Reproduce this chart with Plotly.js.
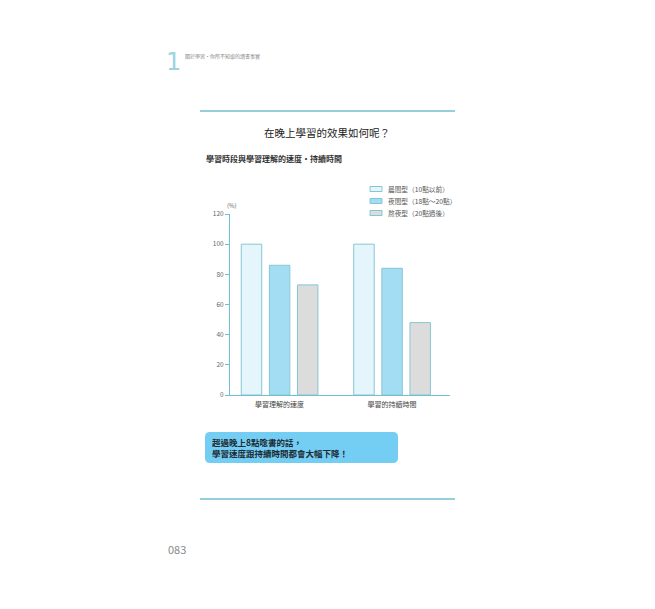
<!DOCTYPE html>
<html>
<head>
<meta charset="utf-8">
<script src="https://cdn.plot.ly/plotly-3.0.1.min.js"></script>
<style>
  html, body { margin: 0; padding: 0; background: #fff; }
  #chart { width: 655px; height: 609px; }
</style>
</head>
<body>
<div id="chart"></div>
<script>
// chart data
const categories = ['學習理解的速度', '學習的持續時間'];
const seriesNames = ['晨間型（10點以前）', '夜間型（18點～20點）', '熬夜型（20點過後）'];
const morningValues = [100, 100];
const eveningValues = [86, 84];
const lateNightValues = [73, 48];
const yTicks = [0, 20, 40, 60, 80, 100, 120];

const fills = ['#e5f5fc', '#a3ddf4', '#dcdcdc'];
const offsets = [-0.34, -0.09, 0.16];
const outline = '#86c6d4';
const teal = '#72bfd2';
const font = '"Noto Sans CJK TC", "Noto Sans", sans-serif';

// page pixels -> paper coords (plot area is x 230..450, y 214..395)
function px(x) { return (x - 230) / 220; }
function py(y) { return (395 - y) / 181; }

function barTrace(name, values, i) {
  return {
    type: 'bar',
    name: name,
    x: categories,
    y: values,
    width: 0.182,
    offset: offsets[i],
    marker: { color: fills[i], line: { color: outline, width: 1 } },
    showlegend: false,
    hovertemplate: '%{x}<br>' + name + ': %{y}%<extra></extra>'
  };
}

var data = [
  barTrace(seriesNames[0], morningValues, 0),
  barTrace(seriesNames[1], eveningValues, 1),
  barTrace(seriesNames[2], lateNightValues, 2)
];

// hand made legend, thin swatches like the printed page
var shapes = [];
var annotations = [];
seriesNames.forEach(function (name, i) {
  var rowY = 189 + i * 12;
  shapes.push({
    type: 'rect', xref: 'paper', yref: 'paper',
    x0: px(370), x1: px(382), y0: py(rowY + 2.5), y1: py(rowY - 2.5),
    fillcolor: fills[i], line: { color: outline, width: 1 }
  });
  annotations.push({
    xref: 'paper', yref: 'paper', x: px(386), y: py(rowY),
    xanchor: 'left', yanchor: 'middle', showarrow: false,
    text: name, font: { family: font, size: 6.7, color: '#555' }
  });
});

// rules above and below the figure
shapes.push({ type: 'line', xref: 'paper', yref: 'paper',
  x0: px(200), x1: px(455), y0: py(111), y1: py(111), line: { color: teal, width: 1.5 } });
shapes.push({ type: 'line', xref: 'paper', yref: 'paper',
  x0: px(200), x1: px(455), y0: py(499), y1: py(499), line: { color: teal, width: 1.5 } });

// rounded callout box
var bx0 = 205, bx1 = 398, by0 = 432, by1 = 463, r = 5;
var box = 'M' + px(bx0 + r) + ',' + py(by0) +
  ' L' + px(bx1 - r) + ',' + py(by0) +
  ' Q' + px(bx1) + ',' + py(by0) + ' ' + px(bx1) + ',' + py(by0 + r) +
  ' L' + px(bx1) + ',' + py(by1 - r) +
  ' Q' + px(bx1) + ',' + py(by1) + ' ' + px(bx1 - r) + ',' + py(by1) +
  ' L' + px(bx0 + r) + ',' + py(by1) +
  ' Q' + px(bx0) + ',' + py(by1) + ' ' + px(bx0) + ',' + py(by1 - r) +
  ' L' + px(bx0) + ',' + py(by0 + r) +
  ' Q' + px(bx0) + ',' + py(by0) + ' ' + px(bx0 + r) + ',' + py(by0) + ' Z';
shapes.push({ type: 'path', xref: 'paper', yref: 'paper', path: box,
  fillcolor: '#74cef3', line: { width: 0 } });

annotations.push(
  { xref: 'paper', yref: 'paper', x: px(327), y: py(132), showarrow: false,
    xanchor: 'center', yanchor: 'middle',
    text: '在晚上學習的效果如何呢？', font: { family: font, size: 10.5, color: '#222' } },
  { xref: 'paper', yref: 'paper', x: px(204), y: py(158), showarrow: false,
    xanchor: 'left', yanchor: 'middle',
    text: '<b>學習時段與學習理解的速度・持續時間</b>', font: { family: font, size: 8, color: '#333' } },
  { xref: 'paper', yref: 'paper', x: px(225), y: py(205), showarrow: false,
    xanchor: 'left', yanchor: 'middle',
    text: '(%)', font: { family: font, size: 6, color: '#666' } },
  { xref: 'paper', yref: 'paper', x: px(210), y: py(447.5), showarrow: false,
    xanchor: 'left', yanchor: 'middle', align: 'left',
    text: '<b>超過晚上8點唸書的話，<br>學習速度跟持續時間都會大幅下降！</b>',
    font: { family: font, size: 8.5, color: '#1d2a33' } },
  { xref: 'paper', yref: 'paper', x: px(166), y: py(549), showarrow: false,
    xanchor: 'left', yanchor: 'middle',
    text: '083', font: { family: font, size: 11, color: '#8a8a8a' } },
  { xref: 'paper', yref: 'paper', x: px(164), y: py(62), showarrow: false,
    xanchor: 'left', yanchor: 'middle',
    text: '1', font: { family: 'DejaVu Sans ExtraLight, DejaVu Sans, sans-serif', size: 24, color: '#9fd3e0' } },
  { xref: 'paper', yref: 'paper', x: px(183), y: py(56), showarrow: false,
    xanchor: 'left', yanchor: 'middle',
    text: '關於學習・你所不知道的讀書事實', font: { family: font, size: 5, color: '#888' } }
);

var layout = {
  width: 655,
  height: 609,
  margin: { l: 230, r: 205, t: 214, b: 214 },
  paper_bgcolor: '#fff',
  plot_bgcolor: '#fff',
  barmode: 'overlay',
  showlegend: false,
  font: { family: font },
  xaxis: {
    type: 'category',
    range: [-0.44, 1.516],
    showline: true, linecolor: teal, linewidth: 1,
    showgrid: false, zeroline: false,
    ticks: 'outside', ticklen: 3, tickcolor: 'rgba(0,0,0,0)',
    tickfont: { family: font, size: 7, color: '#444' }
  },
  yaxis: {
    range: [0, 120],
    tickvals: yTicks,
    showline: true, linecolor: teal, linewidth: 1,
    showgrid: false, zeroline: false,
    ticks: 'outside', ticklen: 4, tickcolor: teal,
    tickfont: { family: font, size: 6.5, color: '#666' }
  },
  shapes: shapes,
  annotations: annotations
};

Plotly.newPlot('chart', data, layout, { displayModeBar: false });
</script>
</body>
</html>
